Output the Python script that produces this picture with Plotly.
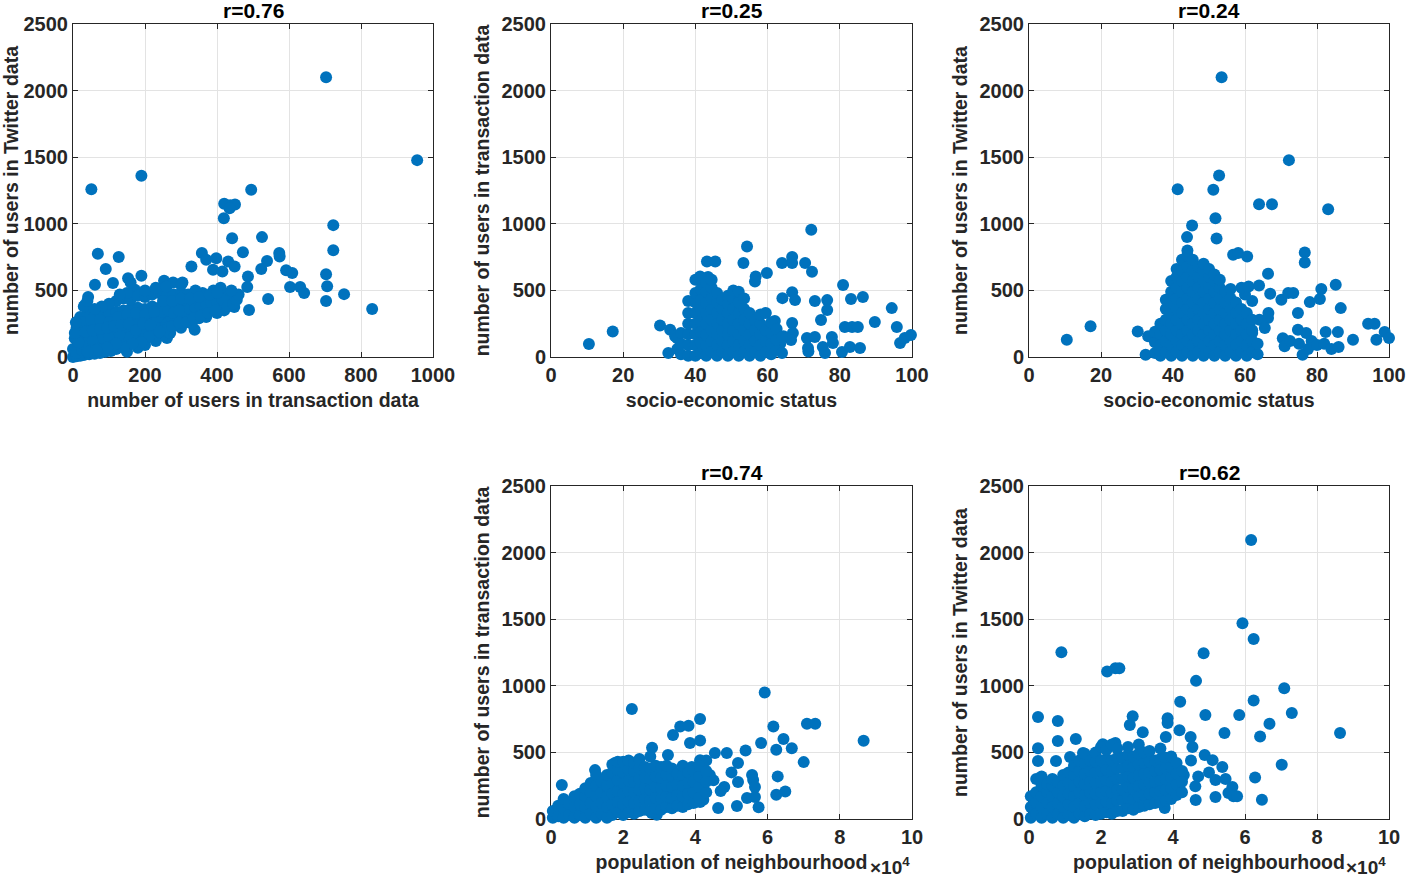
import plotly.graph_objects as go

# ---------------- DATA ----------------
# Panel 1: users in transaction data (x) vs users in Twitter data (y)
trans_twitter_sparse = [
    (703, 2100), (956, 1478), (51, 1260), (190, 1360), (495, 1255), (420, 1150), (437, 1140), (450, 1145),
    (419, 1042), (435, 1117), (442, 892), (525, 900), (723, 990), (723, 802), (69, 775), (127, 750), (91, 660),
    (61, 542), (111, 555), (153, 592), (190, 610), (253, 572), (278, 560), (304, 560), (329, 680), (358, 780),
    (370, 730), (398, 742), (389, 655), (415, 642), (431, 717), (449, 680), (472, 787), (486, 605), (484, 525),
    (489, 352), (523, 660), (539, 720), (542, 435), (573, 780), (574, 755), (592, 652), (609, 630), (603, 525),
    (631, 525), (642, 480), (703, 622), (706, 532), (703, 420), (753, 472), (831, 360), (338, 205), (261, 142),
    (448, 375), (436, 480), (33, 390), (42, 450), (172, 505), (160, 560),
]
trans_twitter_dense = [
    (0, 0), (10, 5), (20, 10), (30, 15), (45, 20), (60, 25), (75, 30), (90, 40), (105, 45), (120, 60),
    (0, 60), (15, 70), (30, 80), (50, 90), (70, 100), (90, 110), (110, 120), (130, 130), (150, 110), (170, 140),
    (190, 150), (5, 140), (20, 150), (40, 160), (60, 170), (80, 180), (100, 190), (120, 200), (140, 190),
    (160, 200), (180, 210), (200, 190), (220, 200), (240, 230), (260, 250), (280, 270), (10, 220), (30, 230),
    (50, 240), (70, 250), (90, 260), (110, 270), (130, 280), (150, 270), (170, 280), (190, 290), (210, 280),
    (230, 290), (250, 300), (270, 310), (290, 320), (310, 300), (330, 330), (350, 340), (370, 360), (390, 380),
    (410, 400), (430, 420), (20, 300), (40, 330), (30, 380), (60, 310), (80, 320), (100, 330), (120, 340),
    (140, 350), (160, 360), (180, 370), (200, 360), (220, 380), (240, 370), (260, 390), (280, 380), (300, 390),
    (320, 400), (340, 410), (360, 420), (380, 440), (400, 450), (420, 460), (440, 440), (360, 480), (390, 500),
    (410, 520), (40, 420), (120, 420), (140, 440), (160, 430), (180, 460), (200, 450), (220, 470), (240, 480),
    (260, 460), (280, 470), (300, 480), (320, 470), (340, 500), (200, 500), (230, 520), (260, 530), (300, 540),
    (150, 480), (130, 470), (100, 400), (80, 380), (60, 360), (150, 40), (200, 90), (250, 160), (300, 220),
    (330, 250), (350, 290), (370, 300), (400, 330), (420, 350), (270, 180), (230, 120), (180, 70),
    (10, 30), (25, 50), (40, 110), (55, 130), (70, 60), (85, 140), (100, 150), (115, 90), (130, 170),
    (145, 230), (160, 150), (175, 240), (190, 220), (205, 250), (220, 330), (235, 300), (250, 340), (265, 350),
    (280, 330), (295, 350), (310, 430), (325, 360), (340, 370), (355, 380), (370, 400), (385, 410), (400, 400),
    (415, 430), (430, 380), (445, 400), (25, 260), (50, 280), (75, 280), (100, 260), (125, 300), (150, 320),
    (175, 330), (200, 320), (225, 340), (250, 420), (275, 420), (300, 440), (325, 440), (350, 450), (380, 470),
    (400, 480), (35, 190), (55, 200), (75, 210), (95, 220), (115, 230), (135, 240), (155, 250), (175, 200),
    (195, 250), (215, 240), (235, 180), (255, 200), (275, 230), (295, 260), (315, 260), (335, 290), (355, 310),
    (375, 330), (395, 350), (210, 150), (240, 190), (190, 110), (165, 100), (140, 70), (120, 100), (95, 70),
    (65, 50), (40, 40), (15, 110), (5, 180), (8, 260), (455, 430), (460, 470), (440, 500),
]

# Panel 2: socio-economic status (x) vs users in transaction data (y)
ses_trans_sparse = [
    (10.5, 97), (17.1, 192), (30.2, 237), (32.5, 30), (33, 205), (34.4, 155), (72.1, 955), (54.3, 830),
    (53.3, 705), (43.2, 717), (45.5, 717), (41.3, 605), (43.5, 600), (56.7, 605), (56.5, 567), (59.8, 630),
    (64, 705), (66.8, 705), (66.8, 750), (70.4, 705), (72.3, 640), (64.1, 442), (66.8, 487), (67.6, 427),
    (73.1, 420), (76.5, 427), (76.5, 352), (74.8, 277), (80.9, 540), (83.1, 435), (86.4, 450), (81.4, 225),
    (83.4, 225), (85, 225), (89.7, 262), (94.4, 367), (95.8, 225), (96.7, 105), (98, 142), (99.7, 165),
    (70.9, 142), (71.2, 67), (73.1, 150), (75.3, 75), (77.8, 150), (78.1, 105), (75.9, 30), (80.6, 37),
    (82.8, 75), (85.6, 67), (66.8, 255), (67, 180), (66.5, 127), (64.4, 155), (63.5, 100), (62, 80),
    (61, 40), (60, 200), (62, 270), (71.3, 42),
]
ses_trans_dense = [
    (35, [60, 140]), (36, [20, 100, 180]), (38, [10, 90, 170, 250, 330, 420]),
    (40, [10, 90, 170, 250, 330, 410, 480, 580]), (41.5, [30, 110, 190, 270, 350, 430, 510, 590]),
    (43, [10, 90, 170, 250, 330, 410, 490, 560]), (44.5, [40, 120, 200, 280, 360, 440, 520, 580]),
    (46, [10, 90, 170, 250, 330, 410, 480]), (47.5, [40, 120, 200, 280, 360, 430]),
    (49, [10, 90, 170, 250, 330, 400, 460]), (50.5, [40, 120, 200, 280, 360, 440, 500]),
    (52, [10, 90, 170, 250, 330, 410, 490]), (53.5, [40, 120, 200, 280, 360, 440]),
    (55, [10, 90, 170, 250, 330]), (56.5, [40, 120, 200, 280]), (58, [10, 90, 170, 250, 320]),
    (59.5, [40, 120, 200, 330]), (61, [20, 100, 180, 260]), (62.5, [50, 130, 210]), (64, [30, 150]),
]

# Panel 3: socio-economic status (x) vs users in Twitter data (y)
ses_twitter_sparse = [
    (10.5, 130), (17.1, 230), (30.2, 192), (32.4, 17), (33.1, 155), (53.5, 2100), (72.2, 1478), (52.8, 1362),
    (41.3, 1260), (51.2, 1255), (63.9, 1147), (67.5, 1147), (83.1, 1110), (51.8, 1042), (45.3, 987),
    (43.9, 900), (52.1, 890), (56.7, 767), (58.1, 780), (60.6, 755), (76.6, 785), (76.6, 710), (66.4, 625),
    (63.9, 537), (67, 475), (70.1, 430), (72, 480), (73.4, 480), (81.2, 510), (80.8, 435), (78, 412),
    (85.2, 542), (86.6, 367), (74.7, 330), (74.7, 205), (77, 180), (82.4, 187), (85.8, 187), (90, 130),
    (94.2, 250), (96, 250), (98.8, 187), (100, 142), (96.5, 130), (70.5, 140), (71, 80), (72.5, 120),
    (75, 100), (77.5, 60), (78.5, 120), (80, 90), (82, 100), (84, 60), (86, 75), (76, 17), (64, 280),
    (66.4, 292), (65.5, 217), (66.5, 330), (62, 180), (61, 100), (60, 30), (57, 300), (58, 350), (62, 420),
    (60, 470), (59, 520), (61, 530),
]
ses_twitter_dense = [
    (35, [30, 110, 190]), (36.5, [10, 90, 170, 250]), (38, [40, 120, 200, 280, 360, 430]),
    (39.5, [10, 90, 170, 250, 330, 410, 490, 570]), (41, [40, 120, 200, 280, 360, 440, 520, 600, 660]),
    (42.5, [10, 90, 170, 250, 330, 410, 490, 570, 650, 730]),
    (44, [40, 120, 200, 280, 360, 440, 520, 600, 680, 760, 800]),
    (45.5, [10, 90, 170, 250, 330, 410, 490, 570, 650, 730]),
    (47, [40, 120, 200, 280, 360, 440, 520, 600, 680]),
    (48.5, [10, 90, 170, 250, 330, 410, 490, 570, 650, 700]),
    (50, [40, 120, 200, 280, 360, 440, 520, 600, 660]),
    (51.5, [10, 90, 170, 250, 330, 410, 490, 570, 620]),
    (53, [40, 120, 200, 280, 360, 440, 520, 580]), (54.5, [10, 90, 170, 250, 330, 410, 490]),
    (56, [40, 120, 200, 280, 360, 440, 510]), (57.5, [10, 90, 170, 250, 330, 410]),
    (59, [40, 120, 200, 280, 360]), (60.5, [10, 90, 170, 250, 330]), (62, [40, 120, 200, 280]),
    (63.5, [20, 100]),
]

# Panel 4: population of neighbourhood in units of 10^4 (x) vs users in transaction data (y)
pop_trans_sparse = [
    (0.3, 255), (2.24, 825), (4.13, 750), (3.58, 695), (3.81, 700), (3.38, 630), (3.85, 570), (4.13, 590),
    (3.24, 480), (2.8, 535), (5.92, 950), (6.16, 695), (7.09, 715), (7.32, 715), (6.44, 600), (6.24, 520),
    (6.67, 532), (5.82, 570), (5.39, 515), (7.0, 427), (8.66, 587), (6.28, 320), (6.24, 182), (6.49, 207),
    (4.63, 82), (5.15, 97), (5.43, 157), (5.65, 165), (5.75, 88), (5.57, 330), (5.6, 292), (5.65, 240),
    (4.54, 495), (4.87, 495), (5.18, 420), (5.18, 277), (4.8, 240), (4.22, 145), (4.13, 127), (2.79, 45),
    (2.93, 32), (4.13, 442), (1.22, 367), (1.77, 420), (3.9, 390), (4.3, 440), (4.5, 290), (4.7, 210),
    (4.4, 330), (5.0, 350),
]
pop_trans_dense = [
    (0.05, [10, 60]), (0.2, [20, 100]), (0.35, [10, 80, 150]), (0.5, [30, 110]), (0.65, [10, 90, 170]),
    (0.8, [30, 110, 190]), (0.95, [10, 90, 170, 230]), (1.1, [40, 120, 200, 270]),
    (1.25, [10, 90, 170, 250, 330]), (1.4, [40, 120, 200, 280]), (1.55, [10, 90, 170, 250, 330]),
    (1.7, [30, 110, 190, 270, 350, 410]), (1.85, [50, 130, 210, 290, 370, 430]),
    (2.0, [30, 110, 190, 270, 350, 430]), (2.15, [50, 130, 210, 290, 370, 440]),
    (2.3, [40, 120, 200, 280, 360, 420]), (2.45, [60, 140, 220, 300, 380, 450]),
    (2.6, [70, 150, 230, 310, 390]), (2.75, [60, 140, 220, 300, 380, 470]), (2.9, [80, 160, 240, 320, 400]),
    (3.05, [70, 150, 230, 310, 390]), (3.2, [90, 170, 250, 330, 400]), (3.35, [80, 160, 240, 320, 380]),
    (3.5, [100, 180, 260, 340]), (3.65, [90, 170, 250, 330, 400]), (3.8, [110, 190, 270, 350]),
    (3.95, [120, 200, 280, 360]), (4.1, [160, 240, 320, 400]), (4.3, [200, 280, 360]),
]

# Panel 5: population of neighbourhood in units of 10^4 (x) vs users in Twitter data (y)
pop_twitter_sparse = [
    (6.17, 2095), (5.93, 1470), (6.24, 1352), (0.9, 1252), (4.85, 1245), (2.17, 1107), (2.4, 1132),
    (2.51, 1132), (4.64, 1037), (7.09, 982), (4.2, 880), (6.24, 890), (7.3, 795), (5.84, 780), (4.9, 780),
    (6.68, 715), (6.42, 620), (5.43, 645), (8.64, 645), (7.02, 407), (6.28, 312), (6.47, 145), (0.25, 765),
    (0.8, 735), (0.25, 532), (0.8, 585), (1.3, 600), (0.25, 435), (0.75, 435), (1.14, 465), (2.88, 772),
    (2.8, 705), (3.16, 652), (3.85, 757), (3.85, 720), (3.8, 615), (4.18, 667), (4.49, 615), (4.54, 540),
    (3.77, 82), (4.88, 480), (5.1, 442), (5.37, 390), (5.18, 292), (5.46, 300), (5.65, 240), (5.18, 165),
    (5.54, 195), (5.68, 170), (5.78, 170), (4.63, 142), (4.18, 232), (4.62, 245), (4.5, 440), (4.7, 320),
    (4.3, 330), (5.0, 350), (1.5, 495), (2.05, 562), (2.4, 570),
]
pop_twitter_dense = [
    (0.05, [10, 90, 170]), (0.2, [40, 120, 200, 300]), (0.35, [10, 90, 170, 250, 320]),
    (0.5, [40, 120, 200, 260]), (0.65, [10, 90, 170, 250, 300]), (0.8, [40, 120, 200, 280]),
    (0.95, [10, 90, 170, 250, 330]), (1.1, [30, 110, 190, 270, 350]), (1.25, [10, 90, 170, 250, 330, 400]),
    (1.4, [40, 120, 200, 280, 360, 440]), (1.55, [20, 100, 180, 260, 340, 420, 490]),
    (1.7, [40, 120, 200, 280, 360, 440]), (1.85, [30, 110, 190, 270, 350, 430, 500]),
    (2.0, [40, 120, 200, 280, 360, 440, 540]), (2.15, [50, 130, 210, 290, 370, 450, 520]),
    (2.3, [40, 120, 200, 280, 360, 440, 560]), (2.45, [60, 140, 220, 300, 380, 460, 530]),
    (2.6, [60, 140, 220, 300, 380, 460]), (2.75, [80, 160, 240, 320, 400, 480, 540]),
    (2.9, [70, 150, 230, 310, 390, 470]), (3.05, [90, 170, 250, 330, 410, 490, 560]),
    (3.2, [100, 180, 260, 340, 420, 500]), (3.35, [110, 190, 270, 350, 430, 510]),
    (3.5, [120, 200, 280, 360, 440]), (3.65, [130, 210, 290, 370, 450, 530]),
    (3.8, [140, 220, 300, 380, 460]), (3.95, [150, 230, 310, 390, 470]), (4.1, [180, 260, 340, 420]),
    (4.25, [200, 280, 360]),
]

panel_titles = ["r=0.76", "r=0.25", "r=0.24", "r=0.74", "r=0.62"]
x_labels = ["number of users in transaction data", "socio-economic status", "socio-economic status",
            "population of neighbourhood", "population of neighbourhood"]
y_labels = ["number of users in Twitter data", "number of users in transaction data",
            "number of users in Twitter data", "number of users in transaction data",
            "number of users in Twitter data"]
x_ranges = [[0, 1000], [0, 100], [0, 100], [0, 10], [0, 10]]
x_ticks = [[0, 200, 400, 600, 800, 1000], [0, 20, 40, 60, 80, 100], [0, 20, 40, 60, 80, 100],
           [0, 2, 4, 6, 8, 10], [0, 2, 4, 6, 8, 10]]
y_ticks = [0, 500, 1000, 1500, 2000, 2500]


def expand(pairs, columns=()):
    xs = [p[0] for p in pairs]
    ys = [p[1] for p in pairs]
    for xv, col in columns:
        for yv in col:
            xs.append(xv)
            ys.append(yv)
    return xs, ys


panels = [
    expand(trans_twitter_sparse + trans_twitter_dense),
    expand(ses_trans_sparse, ses_trans_dense),
    expand(ses_twitter_sparse, ses_twitter_dense),
    expand(pop_trans_sparse, pop_trans_dense),
    expand(pop_twitter_sparse, pop_twitter_dense),
]

# ---------------- LAYOUT ----------------
W, H = 1406, 879


def px_x(p):
    return p / W


def px_y(p):
    return 1 - p / H


col_dom = [[px_x(73), px_x(433)], [px_x(551), px_x(912)], [px_x(1029), px_x(1389)]]
row_dom = [[px_y(357), px_y(24)], [px_y(819), px_y(486)]]
placement = [(0, 0), (0, 1), (0, 2), (1, 1), (1, 2)]
exp_x = [None, None, None, px_x(890), px_x(1366)]

BLUE = "#0072BD"
AX = "#262626"
FONT = "Liberation Sans, Arial, Helvetica, sans-serif"
TICK_SIZE = 20
LABEL_SIZE = 19.5
TITLE_SIZE = 21

fig = go.Figure()
layout = dict(
    width=W, height=H, margin=dict(l=0, r=0, t=0, b=0, autoexpand=False),
    paper_bgcolor="white", plot_bgcolor="white", showlegend=False,
    font=dict(family=FONT, size=TICK_SIZE, color=AX, weight="bold"),
)
annotations = []
for i, (xs, ys) in enumerate(panels):
    r, c = placement[i]
    n = "" if i == 0 else str(i + 1)
    fig.add_trace(go.Scatter(
        x=xs, y=ys, mode="markers", xaxis="x" + n, yaxis="y" + n, cliponaxis=False,
        marker=dict(size=12, color=BLUE, line=dict(width=0)), hoverinfo="x+y",
    ))
    common = dict(showgrid=True, gridcolor="#e3e3e3", gridwidth=1, zeroline=False, automargin=False,
                  showline=True, linecolor=AX, linewidth=1, mirror="ticks",
                  ticks="inside", ticklen=5, tickwidth=1, tickcolor=AX, layer="below traces",
                  tickfont=dict(family=FONT, size=TICK_SIZE, color=AX, weight="bold"))
    layout["xaxis" + n] = dict(
        domain=col_dom[c], anchor="y" + n, range=x_ranges[i], tickvals=x_ticks[i],
        title=dict(text=x_labels[i], standoff=8,
                   font=dict(family=FONT, size=LABEL_SIZE, color=AX, weight="bold")),
        **common)
    layout["yaxis" + n] = dict(
        domain=row_dom[r], anchor="x" + n, range=[0, 2500], tickvals=y_ticks,
        title=dict(text=y_labels[i], standoff=6,
                   font=dict(family=FONT, size=LABEL_SIZE, color=AX, weight="bold")),
        **common)
    annotations.append(dict(
        text=panel_titles[i], xref="paper", yref="paper",
        x=(col_dom[c][0] + col_dom[c][1]) / 2, y=row_dom[r][1], xanchor="center", yanchor="bottom",
        yshift=0, showarrow=False, font=dict(family=FONT, size=TITLE_SIZE, color="black", weight="bold")))
    if exp_x[i] is not None:
        annotations.append(dict(
            text="×10<sup>4</sup>", xref="paper", yref="paper",
            x=exp_x[i], y=px_y(866), xanchor="center", yanchor="middle",
            showarrow=False, font=dict(family=FONT, size=19, color=AX)))

layout["annotations"] = annotations
fig.update_layout(**layout)
# remove the browser's default 8 px page margin so the figure sits at the window's corner
fig.write_html("out.html", config={"displayModeBar": False},
               post_script="document.body.style.margin='0';"
                           "document.body.style.overflow='hidden';")
